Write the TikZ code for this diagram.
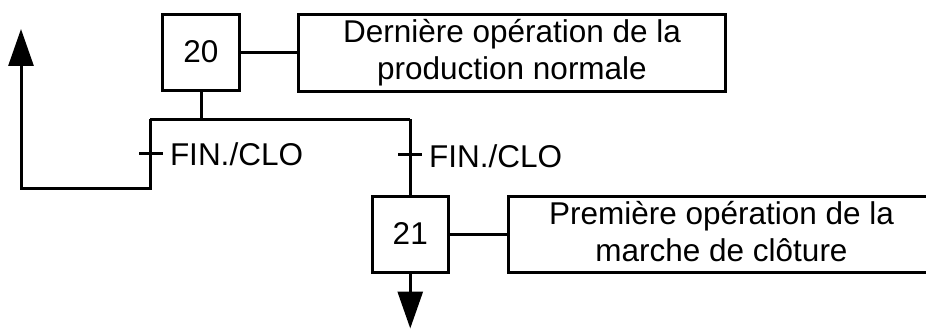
\documentclass[tikz,border=0pt]{standalone}
\usepackage{fontspec}
\setmainfont{Liberation Sans}
\usetikzlibrary{arrows.meta}
\newcommand{\twolines}[2]{\vtop{\baselineskip=37pt\halign{\hfil##\hfil\cr #1\cr #2\cr}}}
\begin{document}
\begin{tikzpicture}[x=1pt,y=-1pt,line width=3pt,
  box/.style={draw,rectangle,inner sep=0pt},
  txt/.style={font=\fontsize{31.5}{37}\selectfont,inner sep=0pt},
  lbl/.style={font=\fontsize{31.5}{37}\selectfont,inner sep=0pt,anchor=base west},
  tip/.style={-{Triangle[length=37pt,width=25pt]}}]
\useasboundingbox (0,0) rectangle (926,329);
\clip (0,0) rectangle (926,329);
% steps and actions
\node[box,minimum width=77pt,minimum height=76pt] (s20) at (201,52.5) {};
\node[txt,anchor=base] (n20) at (201,62.3) {20};
\node[box,minimum width=427pt,minimum height=77pt] (a1) at (512,53) {};
\node[txt,anchor=base] (t1) at (512,42.5) {\twolines{Dernière opération de la}{production normale}};
\node[box,minimum width=76.5pt,minimum height=76.5pt] (s21) at (410.25,234.25) {};
\node[txt,anchor=base] (n21) at (410.25,244) {21};
\node[box,minimum width=427pt,minimum height=76pt] (a2) at (721.5,234.5) {};
\node[txt,anchor=base] (t2) at (721.5,224) {\twolines{Première opération de la}{marche de clôture}};
% coordinates
\coordinate (j) at (201,119);
\coordinate (cL) at (150,119);
\coordinate (cR) at (410.25,119);
\coordinate (b1) at (150,188);
\coordinate (b2) at (21,188);
\coordinate (up) at (21,29);
\coordinate (down) at (410.25,328.5);
\coordinate (tkL1) at (139,153.5);
\coordinate (tkL2) at (163,153.5);
\coordinate (tkR1) at (398,154.5);
\coordinate (tkR2) at (422,154.5);
% connectors
\draw (s20.east) -- (a1.west |- s20.east);
\draw (s21.east) -- (a2.west |- s21.east);
\draw (s20.south) -- (j);
\draw (cL) -- (cR);
\draw (cR) -- (s21.north);
\draw[tip] (cL) -- (b1) -- (b2) -- (up);
\draw[tip] (s21.south) -- (down);
\draw (tkL1) -- (tkL2);
\draw (tkR1) -- (tkR2);
\node[lbl] (fL) at (168.5,165) {FIN./CLO};
\node[lbl] (fR) at (427.5,167.7) {FIN./CLO};
\end{tikzpicture}
\end{document}
